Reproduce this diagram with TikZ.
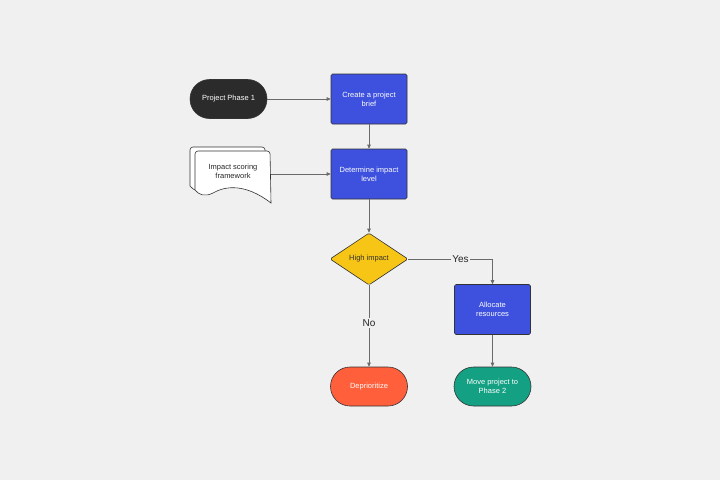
\documentclass[tikz,border=0pt]{standalone}
\usepackage{fontspec}
\setmainfont{Liberation Sans}
\usepackage{xcolor}
\usepackage{tikz}
\usetikzlibrary{arrows.meta,positioning,shapes.geometric}

\definecolor{bggray}{HTML}{F0F0F0}
\definecolor{boxblue}{HTML}{3D50DE}
\definecolor{pilldark}{HTML}{2B2B2B}
\definecolor{pillred}{HTML}{FF5F3B}
\definecolor{pillgreen}{HTML}{13A083}
\definecolor{askyellow}{HTML}{F6C515}
\definecolor{edgegray}{HTML}{333333}
\definecolor{linegray}{HTML}{6A6A6A}

\tikzset{
  procbox/.style={rectangle, rounded corners=1.5pt, draw=edgegray, line width=0.6pt, fill=boxblue, text=white, minimum width=76pt, minimum height=50pt, align=center},
  pillbox/.style={rectangle, rounded corners=19.5pt, draw=edgegray, line width=0.6pt, text=white, minimum width=77pt, minimum height=39pt, align=center},
  askbox/.style={diamond, rounded corners=1.5pt, draw=edgegray, line width=0.6pt, fill=askyellow, text=black!80, minimum width=78pt, minimum height=52pt, inner sep=0pt},
  flowline/.style={draw=linegray, line width=0.6pt, -{Triangle[length=4pt,width=3.5pt]}},
  answer/.style={fill=bggray, text=black!85, font=\fontsize{10}{12}\selectfont, inner sep=1.5pt},
  docpage/.style={draw=edgegray, line width=0.6pt, fill=white}
}

\begin{document}
\begin{tikzpicture}[x=1pt, y=-1pt, every node/.style={font=\fontsize{7.5}{9}\selectfont}]
\fill[bggray] (0,0) rectangle (720,480);
\useasboundingbox (0,0) rectangle (720,480);

% nodes
\node[pillbox, fill=pilldark] (phase1) at (228.5,99) {Project Phase 1};
\node[procbox] (brief) at (369,99) {Create a project\\brief};
\node[procbox] (level) at (369,174) {Determine impact\\level};
\node[askbox] (high) at (369,259) {High impact};
\node[procbox] (alloc) at (492.5,309.5) {Allocate\\resources};
\node[pillbox, fill=pillred] (deprio) at (369,386.5) {Deprioritize};
\node[pillbox, fill=pillgreen] (phase2) at (492.5,386.5) {Move project to\\Phase 2};

% stacked documents
\foreach \dx/\dy in {-5/-4, 0/0} {
\draw[docpage, shift={(\dx,\dy)}] (195,190) [rounded corners=3pt] -- (195,151) -- (270,151) [sharp corners] -- (271,203)
  .. controls (245,183) and (225,186) .. (213,193) .. controls (205,197) and (199,195) .. (195,190);
}
\node[text=black!85, align=center] (frame) at (233,171) {Impact scoring\\framework};
\coordinate (framee) at (270.5,174);

% connectors
\draw[flowline] (phase1) -- (brief);
\draw[flowline] (brief) -- (level);
\draw[flowline] (framee) -- (level);
\draw[flowline] (level) -- (high);
\draw[flowline] (high.east) -| node[answer, pos=0.31] {Yes} (alloc.north);
\draw[flowline] (high) -- node[answer, pos=0.46] {No} (deprio);
\draw[flowline] (alloc) -- (phase2);
\end{tikzpicture}
\end{document}
